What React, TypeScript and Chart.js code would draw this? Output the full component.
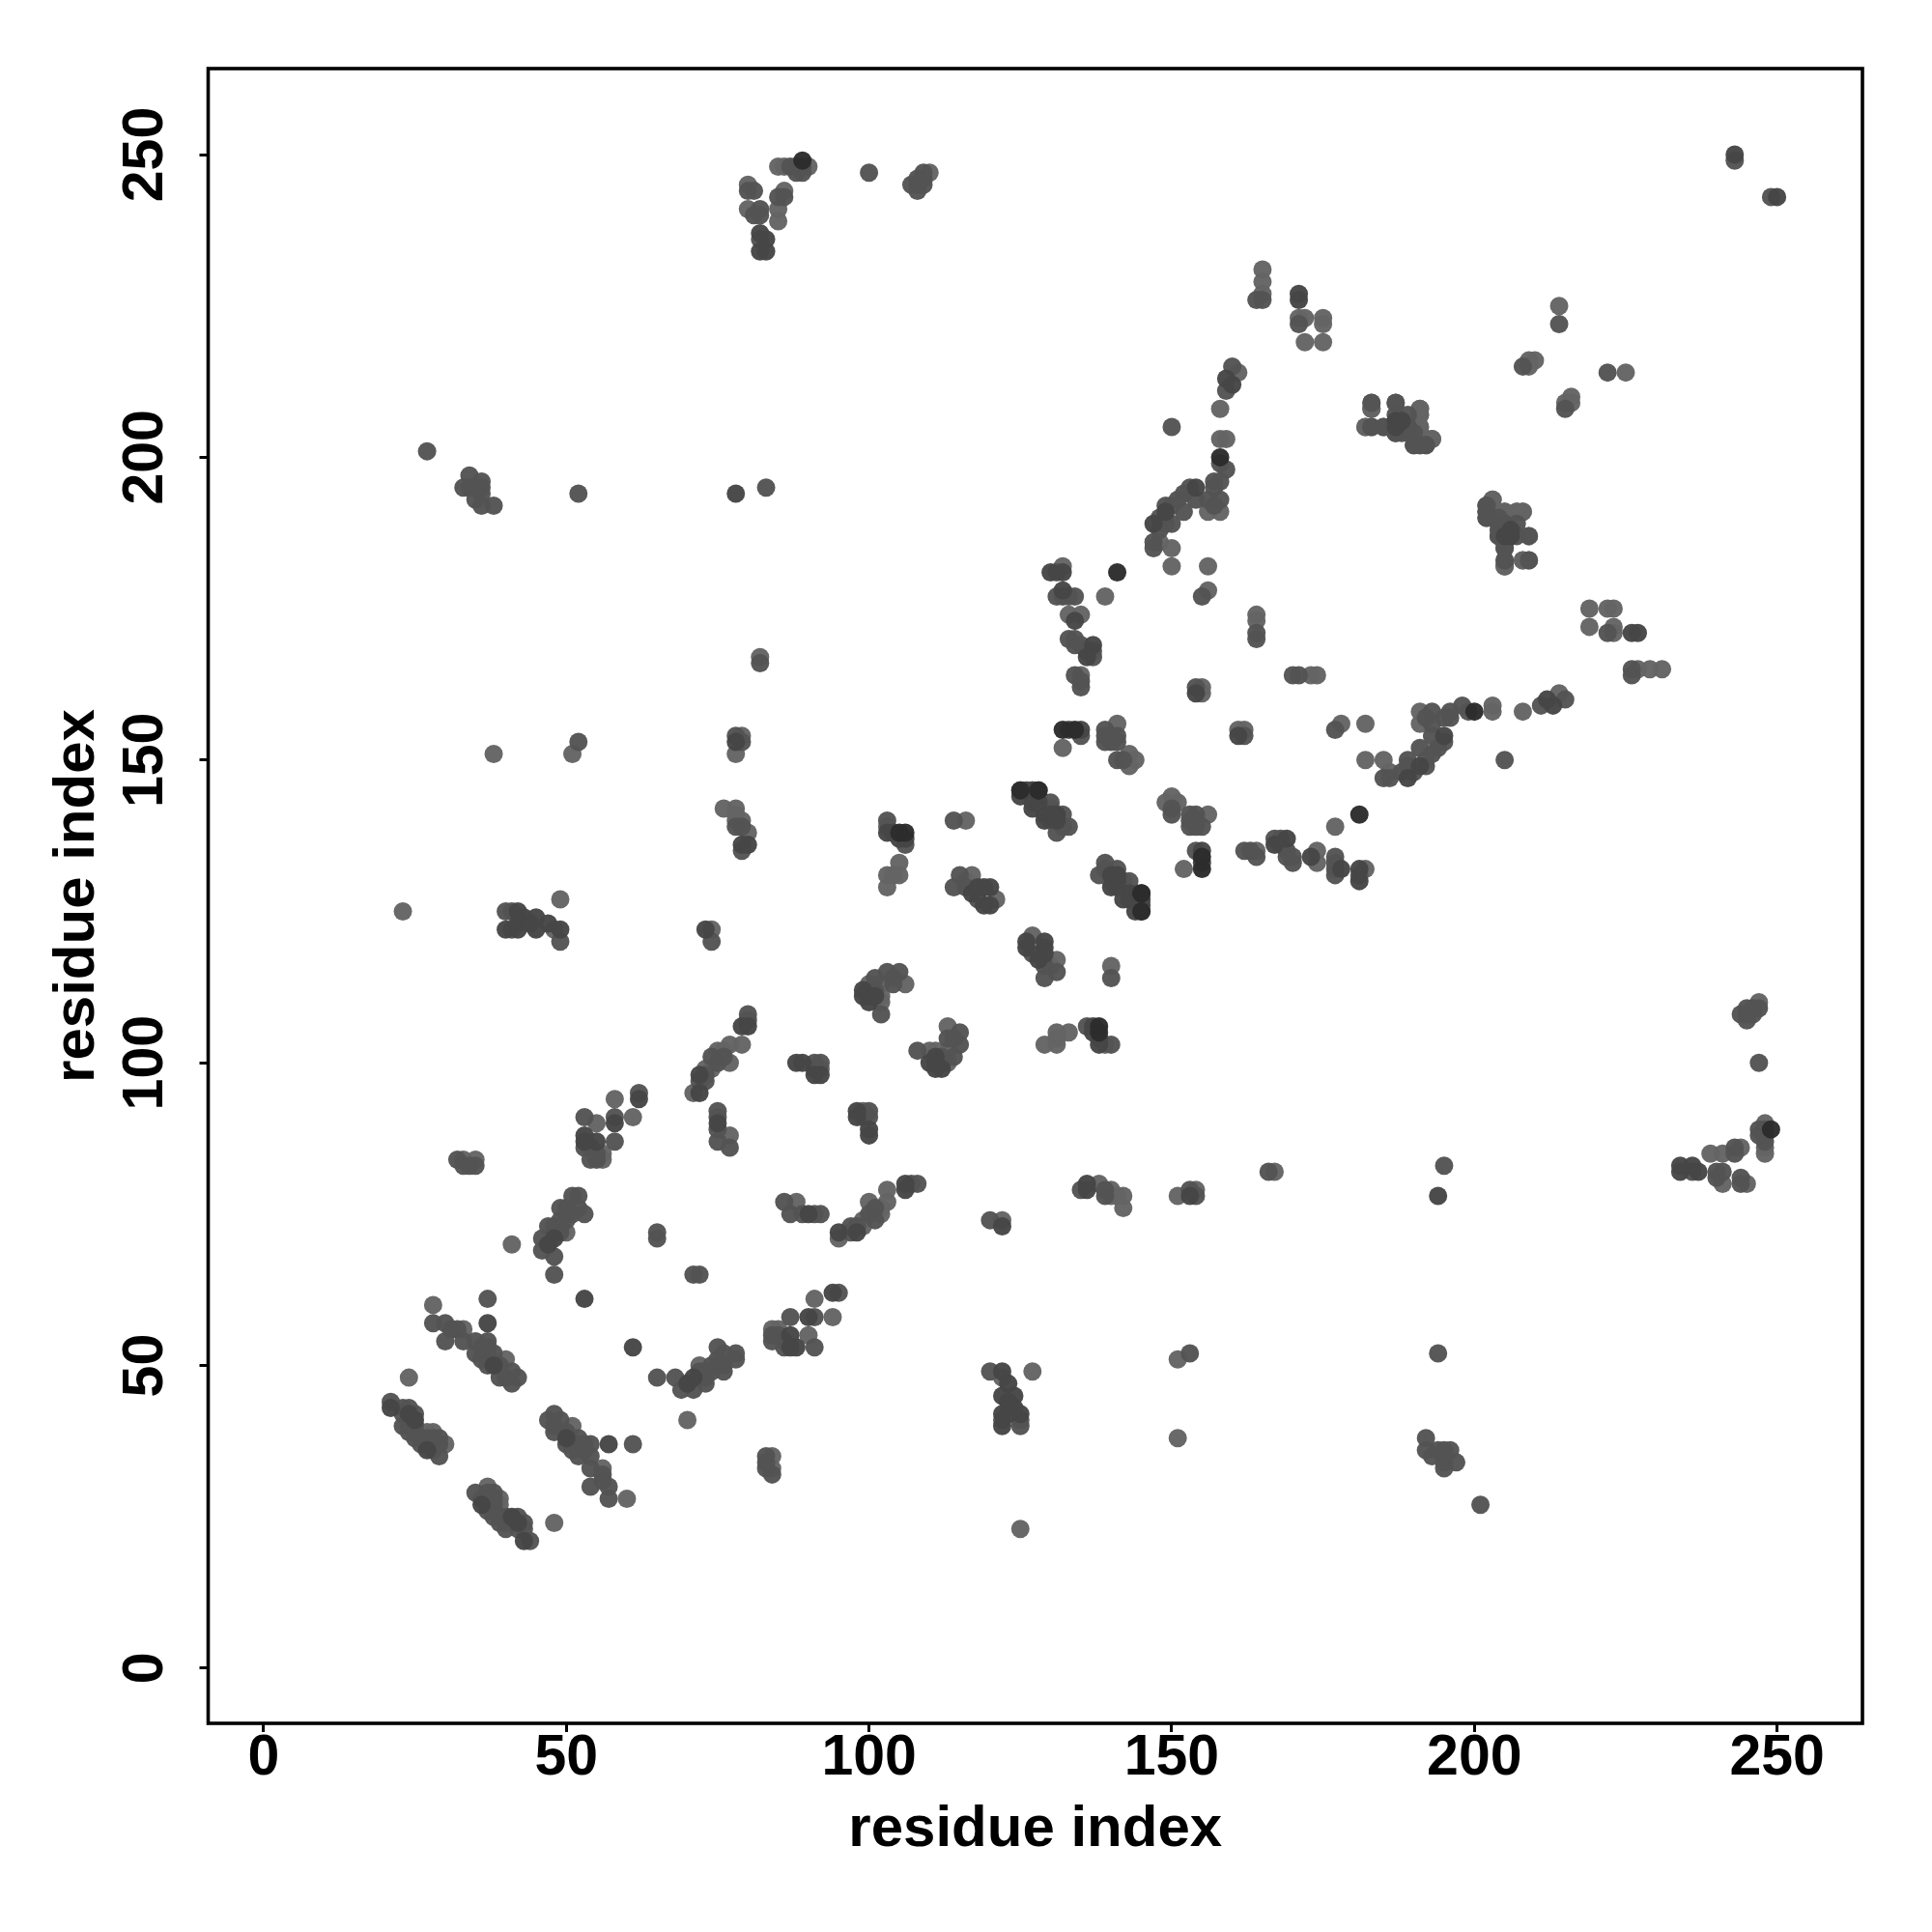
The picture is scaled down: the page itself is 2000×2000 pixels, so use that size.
import React, { useEffect, useRef } from "react";
import { Chart, registerables } from "chart.js";

Chart.register(...registerables);

type Pair = [number, number];

const tickValues = [0, 50, 100, 150, 200, 250];
const axisLabel = "residue index";

// Residue contacts. The map is symmetric, each pair is drawn as (i,j) and (j,i).
const deepPairs: Pair[] = [
  [89,249],[106,138],[105,138],[128,145],[145,128],[145,125],[132,155],[134,155],[141,181],[158,200],
];

const darkPairs: Pair[] = [
  [21,43],[27,36],[25,41],[24,42],[37,57],[38,50],[53,61],[47,70],[48,71],[58,90],[53,88],[55,87],[53,87],[62,94],[75,90],
  [78,153],[79,136],[80,136],[103,138],[106,137],[105,137],[104,138],[42,125],[40,122],[42,122],[42,123],
  [43,124],[45,124],[45,122],[44,123],[47,123],[49,122],[99,112],[99,111],[100,110],[101,111],[79,106],[80,106],
  [72,98],[88,100],[89,100],[91,98],[92,98],[154,161],[133,155],[135,155],[125,144],[126,145],
  [127,145],[127,142],[129,140],[131,141],[117,128],[119,129],[120,129],[118,129],[119,126],[120,126],[171,227],
  [171,226],[159,213],[160,212],[154,195],[147,189],[149,191],[130,181],[132,181],[132,178],
  [134,173],[137,169],[136,167],[187,206],[188,206],[187,205],[243,250],[82,234],[83,234],[83,236],[82,237],[78,194],
  [143,128],[141,130],[140,131],[73,122],[72,95],
];

const midPairs: Pair[] = [
  [21,44],[23,43],[24,43],[23,42],[25,42],[24,41],[23,40],[24,40],[25,40],[24,39],[25,39],[25,38],[26,38],[26,37],[27,38],
  [28,38],[28,37],[28,36],[29,38],[29,37],[29,35],[28,57],[30,57],[31,56],[32,56],[30,54],[33,54],[35,54],[37,54],[35,52],
  [37,52],[38,52],[36,51],[37,50],[39,50],[39,48],[40,48],[41,49],[41,47],[42,48],[37,61],[37,53],[36,53],[48,65],[48,68],
  [46,69],[46,71],[47,73],[48,73],[49,72],[49,73],[49,74],[49,76],[50,74],[50,76],[51,75],[51,78],[52,76],[52,78],[53,75],
  [65,71],[65,72],[32,84],[33,83],[34,83],[35,83],[75,87],[75,89],[75,91],[75,92],[77,86],[53,91],[58,91],[58,87],[53,86],
  [54,84],[55,84],[54,86],[55,85],[62,95],[52,153],[78,154],[79,153],[78,139],[79,139],[79,135],[103,140],[106,136],[114,140],
  [115,131],[114,129],[116,129],[118,127],[40,125],[41,125],[41,122],[49,120],[74,120],[103,115],[105,115],[101,114],[102,108],
  [104,114],[100,112],[100,111],[101,112],[104,113],[80,108],[80,107],[74,101],[75,100],[76,101],[73,97],[72,97],[73,98],
  [91,100],[92,100],[91,99],[134,164],[135,163],[135,162],[154,162],[135,154],[132,177],[139,155],[139,153],[141,153],[141,150],
  [142,150],[140,154],[140,153],[141,154],[139,154],[125,145],[127,143],[130,143],[129,141],[132,141],[131,138],[133,139],
  [132,139],[130,142],[128,144],[164,226],[165,226],[171,222],[160,215],[159,211],[150,205],[158,199],[159,198],[157,196],
  [158,196],[157,195],[158,193],[157,192],[156,193],[153,195],[152,194],[149,192],[152,191],[150,189],[148,190],[147,186],
  [147,185],[151,193],[148,188],[154,193],[149,189],[131,181],[131,177],[133,177],[134,177],[133,170],[134,169],[137,168],
  [137,167],[134,170],[135,169],[136,168],[164,171],[164,170],[183,209],[187,209],[183,205],[185,205],[187,204],[188,204],
  [190,202],[191,202],[192,202],[189,205],[186,205],[188,205],[190,204],[214,222],[208,215],[202,192],[202,191],[202,190],
  [205,189],[206,188],[204,187],[205,187],[205,185],[205,183],[207,189],[207,187],[204,189],[243,249],[89,248],[87,248],
  [88,247],[89,247],[88,248],[100,247],[108,245],[107,245],[108,244],[109,246],[108,246],[109,245],[109,247],[81,244],[80,244],
  [86,243],[85,243],[81,240],[82,241],[82,240],[82,236],[33,195],[34,197],[34,195],[35,195],[35,193],[36,196],[36,195],[36,194],
  [36,192],[38,192],[52,194],[83,195],[82,166],[27,201],[155,177],
];

const palePairs: Pair[] = [
  [28,39],[27,39],[30,37],[28,60],[24,48],[40,51],[33,56],[41,70],[50,72],[33,84],[35,84],[77,88],[55,90],[61,91],[56,85],
  [56,84],[58,94],[38,151],[51,151],[78,151],[79,154],[76,142],[78,142],[78,141],[79,140],[80,138],[78,140],[103,139],[116,140],
  [105,133],[103,131],[104,131],[105,131],[103,129],[117,131],[116,130],[121,127],[23,125],[49,127],[48,122],[74,122],[106,113],
  [102,113],[102,111],[102,110],[100,113],[79,103],[77,103],[76,102],[77,100],[75,102],[71,95],[73,99],[74,99],[99,92],[135,164],
  [155,162],[155,161],[132,152],[141,156],[143,151],[144,150],[143,149],[130,140],[145,127],[165,231],[165,229],[165,227],
  [171,223],[172,223],[175,223],[175,222],[172,219],[175,219],[161,214],[158,208],[158,203],[159,203],[156,191],[158,191],
  [150,192],[148,186],[150,185],[150,182],[156,182],[156,178],[132,182],[139,177],[133,174],[135,174],[164,174],[164,173],
  [183,208],[191,208],[191,207],[182,205],[191,205],[193,203],[191,204],[214,225],[210,216],[209,216],[209,215],
  [203,193],[205,191],[207,191],[208,191],[209,187],[205,182],[208,183],[209,183],[90,248],[85,248],[86,248],[110,247],[80,245],
  [86,244],[80,241],[85,241],[85,239],[82,167],
];

const expand = (pairs: Pair[]) => [
  ...pairs.map(([i, j]) => ({ x: i, y: j })),
  ...pairs.map(([i, j]) => ({ x: j, y: i })),
];

export default function App() {
  const ref = useRef<HTMLCanvasElement>(null);
  useEffect(() => {
    const font = { family: "'Liberation Sans', Arial, sans-serif", weight: "bold" as const, size: 59 };
    const titleFont = { ...font, size: 60 };
    const setTicks = (axis: any) => {
      axis.ticks = tickValues.map((value) => ({ value }));
    };
    const frame = {
      id: "frame",
      afterDatasetsDraw(chart: any) {
        const { ctx, chartArea: a } = chart;
        ctx.save();
        ctx.strokeStyle = "#000";
        ctx.lineWidth = 3.6;
        ctx.strokeRect(a.left, a.top, a.right - a.left, a.bottom - a.top);
        ctx.restore();
      },
    };
    const ds = (label: string, pairs: Pair[], color: string) => ({
      label,
      data: expand(pairs),
      backgroundColor: color,
      borderWidth: 0,
      pointRadius: 9.5,
      pointHoverRadius: 9.5,
    });
    const chart = new Chart(ref.current!, {
      type: "scatter",
      data: {
        datasets: [
          ds("deep", deepPairs, "rgba(44,44,44,0.97)"),
          ds("dark", darkPairs, "rgba(70,70,70,0.97)"),
          ds("mid", midPairs, "rgba(84,84,84,0.97)"),
          ds("pale", palePairs, "rgba(100,100,100,0.97)"),
        ],
      },
      options: {
        responsive: false,
        animation: false,
        devicePixelRatio: 1,
        layout: { padding: { top: 71, right: 72, left: 0, bottom: 0 } },
        plugins: { legend: { display: false }, tooltip: { enabled: false } },
        scales: {
          x: {
            type: "linear",
            min: -9.16,
            max: 264.1,
            afterBuildTicks: setTicks,
            afterFit: (s: any) => { s.height = 216; },
            border: { display: false },
            grid: { drawOnChartArea: false, drawTicks: true, tickLength: 9, tickWidth: 3, tickColor: "#000" },
            ticks: { color: "#000", font, maxRotation: 0, minRotation: 0, padding: -7.5, autoSkip: false },
            title: { display: true, text: axisLabel, color: "#000", font: titleFont, padding: { top: 4, bottom: 69.5 } },
          },
          y: {
            type: "linear",
            min: -9.1,
            max: 264.2,
            afterBuildTicks: setTicks,
            afterFit: (s: any) => { s.width = 215.5; },
            border: { display: false },
            grid: { drawOnChartArea: false, drawTicks: true, tickLength: 9, tickWidth: 3, tickColor: "#000" },
            ticks: { color: "#000", font, maxRotation: 90, minRotation: 90, crossAlign: "center", padding: 5.5, autoSkip: false },
            title: { display: true, text: axisLabel, color: "#000", font: titleFont, padding: { top: 44, bottom: 0 } },
          },
        },
      },
      plugins: [frame],
    } as any);
    return () => chart.destroy();
  }, []);
  return (
    <canvas
      ref={ref}
      width={2000}
      height={2000}
      style={{ position: "absolute", left: 0, top: 0, width: 2000, height: 2000 }}
    />
  );
}
